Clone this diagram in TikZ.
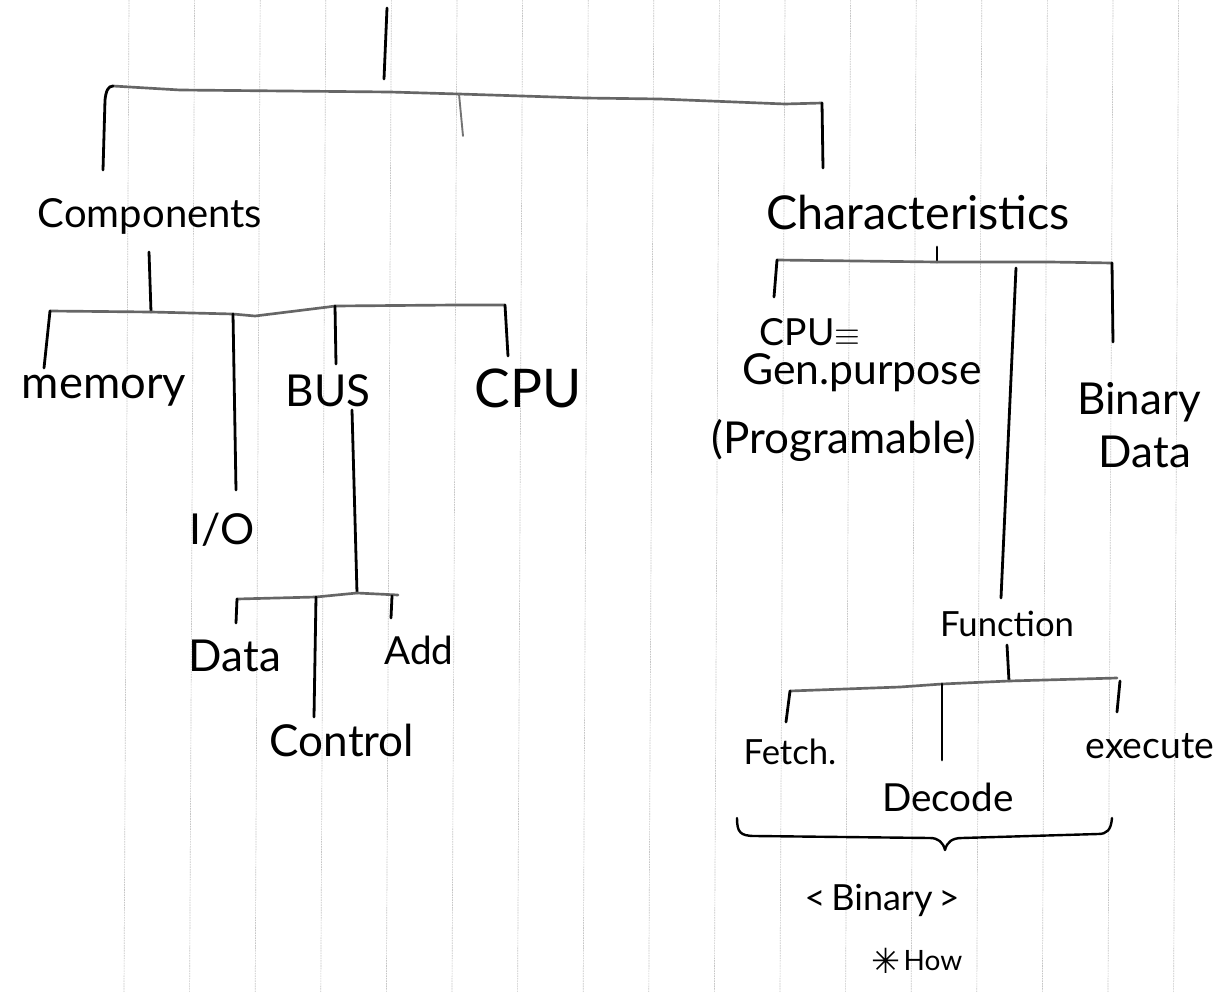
\documentclass[tikz,border=0pt]{standalone}
\usepackage{fontspec}
\setmainfont{Lato}
\newfontfamily\symfont{DejaVu Sans}
\tikzset{
  gridline/.style={gray!45, line width=0.5pt, dash pattern=on 1.2pt off 0.7pt},
  pen/.style={black, line width=2.1pt, line cap=round, line join=round},
  hpen/.style={black!60, line width=2pt, line cap=round, line join=round},
  lightpen/.style={black!55, line width=1.4pt, line cap=round},
  lbl/.style={inner sep=0pt, text=black},
}
\newcommand{\fs}[1]{\fontsize{#1}{#1}\selectfont}
\begin{document}
\begin{tikzpicture}[x=0.75pt, y=-0.75pt]
\useasboundingbox (0,0) rectangle (1218,992);
\fill[white] (0,0) rectangle (1218,992);
% ruled paper
\foreach \k in {0,...,16} {
  \draw[gridline] ({129+65.6*\k},0) -- ({124+65.6*\k},992);
}

% ---------- labels ----------
\node[lbl, font=\fs{30}] (comp) at (150,216) {Components};
\node[lbl, font=\fs{35}] (char) at (918,212) {Characteristics};
\node[lbl, font=\fs{34}] (mem)  at (104,391) {memory};
\node[lbl, font=\fs{32}] (io)   at (222,530) {I/O};
\node[lbl, font=\fs{33}] (bus)  at (328,391) {BUS};
\node[lbl, font=\fs{40}] (cpu)  at (528,388) {CPU};
\node[lbl, font=\fs{33}] (data) at (235,656) {Data};
\node[lbl, font=\fs{29}] (add)  at (419,650) {Add};
\node[lbl, font=\fs{33}] (ctrl) at (342,740) {Control};
\node[lbl, font=\fs{28}] (cpueq) at (810,332) {CPU$\equiv$};
\node[lbl, font=\fs{32}] (gen)  at (862,373) {Gen.purpose};
\node[lbl, font=\fs{33}] (prog) at (844,440) {(Programable)};
\node[lbl, font=\fs{33}] (bin)  at (1139,402) {Binary};
\node[lbl, font=\fs{33}] (bdata) at (1145,452) {Data};
\node[lbl, font=\fs{26}] (func) at (1007,624) {Function};
\node[lbl, font=\fs{26}] (fetch) at (790,752) {Fetch.};
\node[lbl, font=\fs{29}] (dec)  at (948,797) {Decode};
\node[lbl, font=\fs{28}] (exec) at (1150,746) {execute};
\node[lbl, font=\fs{27}] (bin2) at (882,900) {<\,Binary\,>};
\node[lbl, font=\symfont\bfseries\fs{26}] (star) at (886,961) {✳};
\node[lbl, font=\fs{21}] (how)  at (933,961) {How};

% ---------- root ----------
\coordinate (r0) at (387,8);
\coordinate (r1) at (384,79);
\draw[pen] (r0) -- (r1);

% ---------- top bracket ----------
\coordinate (tL)  at (113,86);
\coordinate (tLb) at (103,170);
\coordinate (tM)  at (459,94);
\coordinate (tMb) at (463,136);
\coordinate (tR)  at (822,103);
\coordinate (tRb) at (823,168);
\draw[hpen] (tL) -- (180,90) -- (390,92) -- (tM) -- (585,98) -- (660,99) -- (785,104) -- (tR);
\draw[pen] (tLb) -- (105,100) .. controls (106,91) and (108,86) .. (tL);
\draw[lightpen] (tM) -- (tMb);
\draw[pen] (tR) -- (tRb);

% ---------- components subtree ----------
\coordinate (c0) at (149,252);
\coordinate (cJ) at (151,312);
\draw[pen] (c0) -- (cJ);
\coordinate (mL)  at (50,311);
\coordinate (mLb) at (44,368);
\coordinate (ioT) at (233,314);
\coordinate (ioB) at (236,490);
\coordinate (bT)  at (335,306);
\coordinate (bB)  at (336,364);
\coordinate (cT)  at (505,305);
\coordinate (cB)  at (508,356);
\draw[hpen] (mL) -- (cJ) -- (ioT) -- (255,316) -- (328,307) -- (bT) -- (455,305) -- (cT);
\draw[pen] (mLb) -- (mL);
\draw[pen] (ioT) -- (ioB);
\draw[pen] (bT) -- (bB);
\draw[pen] (cT) -- (cB);

% bus subtree
\coordinate (b0) at (352,410);
\coordinate (bJ) at (357,593);
\draw[pen] (b0) -- (bJ);
\coordinate (dT) at (237,599);
\coordinate (dB) at (236,623);
\coordinate (kT) at (316,597);
\coordinate (kB) at (314,717);
\coordinate (aT) at (398,595);
\coordinate (aB) at (391,618);
\draw[hpen] (dT) -- (kT) -- (bJ) -- (aT);
\draw[pen] (dB) -- (dT);
\draw[pen] (kT) -- (kB);
\draw[pen] (392,596) -- (aB);

% ---------- characteristics subtree ----------
\coordinate (h0) at (937,247);
\coordinate (hJ) at (937,262);
\draw[pen] (h0) -- (hJ);
\coordinate (gL)  at (777,260);
\coordinate (gLb) at (774,297);
\coordinate (gR)  at (1112,263);
\coordinate (gRb) at (1113,342);
\coordinate (fT)  at (1016,268);
\coordinate (fB)  at (1001,598);
\draw[hpen] (gL) -- (hJ) -- (1050,262) -- (gR);
\draw[pen] (gLb) -- (gL);
\draw[pen] (gR) -- (gRb);
\draw[pen] (fT) -- (fB);

% function subtree
\coordinate (u0) at (1007,645);
\coordinate (uJ) at (1009,681);
\draw[pen] (u0) -- (uJ);
\coordinate (eL)  at (790,691);
\coordinate (eLb) at (786,722);
\coordinate (eD)  at (942,684);
\coordinate (eDb) at (942,760);
\coordinate (eR)  at (1117,678);
\coordinate (eRb) at (1117,712);
\draw[hpen] (eL) -- (900,687) -- (eD) -- (uJ) -- (eR);
\draw[pen] (eLb) -- (eL);
\draw[pen] (eD) -- (eDb);
\draw[pen] (1120,681) -- (eRb);

% brace
\coordinate (brL) at (737,818);
\coordinate (brM) at (945,850);
\coordinate (brR) at (1112,818);
\draw[pen, line width=1.8pt] (brL) .. controls (737,832) and (740,836) .. (755,836) -- (930,838)
  .. controls (938,838) and (943,842) .. (brM)
  .. controls (947,842) and (952,838) .. (962,838) -- (1098,834)
  .. controls (1107,834) and (1111,830) .. (brR);
\end{tikzpicture}
\end{document}
